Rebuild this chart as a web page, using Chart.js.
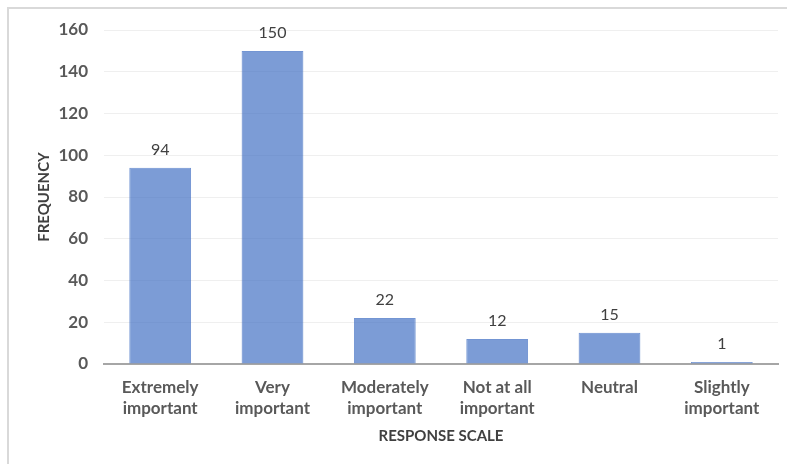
<!DOCTYPE html>
<html>
<head>
<meta charset="utf-8">
<title>Response Scale Frequency</title>
<script src="https://cdn.jsdelivr.net/npm/chart.js@4.4.1/dist/chart.umd.min.js"></script>
<style>
  html, body { margin: 0; padding: 0; background: #ffffff; }
  #wrap { position: relative; width: 787px; height: 464px; overflow: hidden; }
  #frame {
    position: absolute; left: 7px; top: 7px; width: 800px; height: 480px;
    border-top: 2px solid #d9d9d9; border-left: 2px solid #d9d9d9;
    box-sizing: border-box; pointer-events: none;
  }
  canvas { position: absolute; left: 0; top: 0; }
</style>
</head>
<body>
<div id="wrap">
  <canvas id="chart" width="787" height="464"></canvas>
  <div id="frame"></div>
</div>
<script>
// Survey responses per importance level
const categories = [
  ["Extremely", "important"],
  ["Very", "important"],
  ["Moderately", "important"],
  ["Not at all", "important"],
  ["Neutral"],
  ["Slightly", "important"]
];
const frequencies = [94, 150, 22, 12, 15, 1];
const yTicks = [0, 20, 40, 60, 80, 100, 120, 140, 160];

const FONT = "Lato, 'Open Sans', 'DejaVu Sans', sans-serif";

// Writes each bar's value just above its top
const valueLabels = {
  id: "valueLabels",
  afterDatasetsDraw(chart) {
    const ctx = chart.ctx;
    const meta = chart.getDatasetMeta(0);
    const data = chart.data.datasets[0].data;
    ctx.save();
    ctx.font = "16px " + FONT;
    ctx.fillStyle = "#404040";
    ctx.textAlign = "center";
    ctx.textBaseline = "middle";
    meta.data.forEach((bar, i) => {
      ctx.fillText(String(data[i]), bar.x, bar.y - 18);
    });
    ctx.restore();
  }
};

new Chart(document.getElementById("chart"), {
  type: "bar",
  data: {
    labels: categories,
    datasets: [{
      label: "Frequency",
      data: frequencies,
      backgroundColor: "rgba(68,114,196,0.7)",
      borderColor: "rgba(68,114,196,0.75)",
      borderWidth: 1,
      categoryPercentage: 1.0,
      barPercentage: 0.55
    }]
  },
  options: {
    responsive: false,
    animation: false,
    devicePixelRatio: 1,
    layout: { padding: { left: 8, top: 30, right: 9, bottom: 0 } },
    plugins: {
      legend: { display: false },
      tooltip: { enabled: false }
    },
    scales: {
      x: {
        grid: { display: false, drawTicks: false },
        border: { display: true, color: "#a6a6a6", width: 2 },
        ticks: {
          color: "#595959",
          padding: 13,
          maxRotation: 0,
          autoSkip: false,
          font: { family: FONT, size: 17, weight: "bold", lineHeight: 1.24 }
        },
        title: {
          display: true,
          text: "RESPONSE SCALE",
          color: "#404040",
          font: { family: FONT, size: 15, weight: "bold" },
          padding: { top: 0, bottom: 19 }
        },
        afterFit(scale) { scale.height = 100; }
      },
      y: {
        min: 0,
        max: 160,
        afterBuildTicks(scale) { scale.ticks = yTicks.map(v => ({ value: v })); },
        grid: { color: "#efefef", lineWidth: 1, drawTicks: false },
        border: { display: false },
        ticks: {
          color: "#595959",
          padding: 16,
          font: { family: FONT, size: 17, weight: "bold" }
        },
        title: {
          display: true,
          text: "FREQUENCY",
          color: "#404040",
          font: { family: FONT, size: 15, weight: "bold" },
          padding: { top: 27, bottom: 0 }
        },
        afterFit(scale) { scale.width = 96; }
      }
    }
  },
  plugins: [valueLabels]
});
</script>
</body>
</html>
